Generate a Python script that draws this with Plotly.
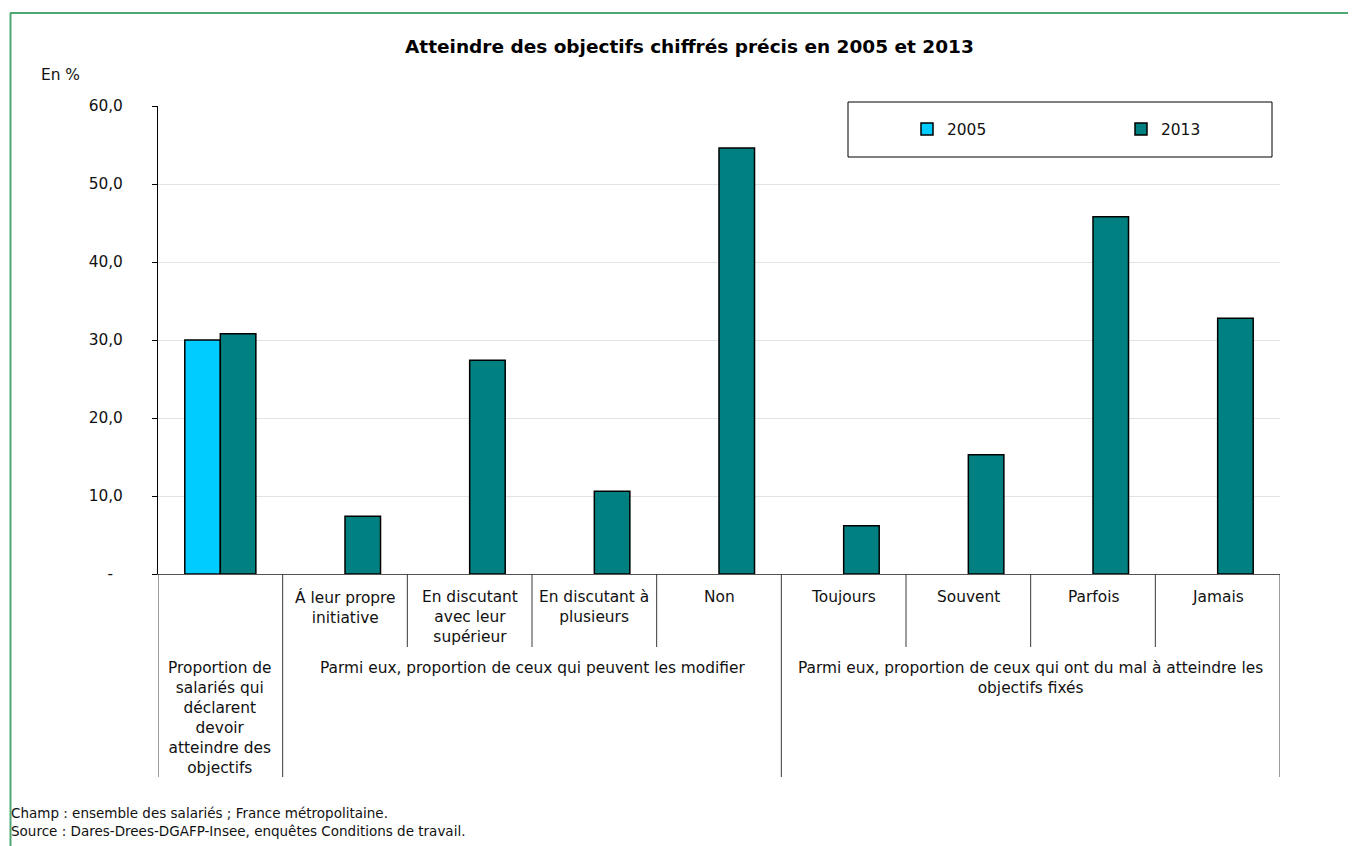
import plotly.graph_objects as go

# ---------------- data ----------------
categories = [
    "",
    "Á leur propre<br>initiative",
    "En discutant<br>avec leur<br>supérieur",
    "En discutant à<br>plusieurs",
    "Non",
    "Toujours",
    "Souvent",
    "Parfois",
    "Jamais",
]
group_labels = [
    "Proportion de<br>salariés qui<br>déclarent<br>devoir<br>atteindre des<br>objectifs",
    "Parmi eux, proportion de ceux qui peuvent les modifier",
    "Parmi eux, proportion de ceux qui ont du mal à atteindre les<br>objectifs fixés",
]
group_spans = [(0, 0), (1, 4), (5, 8)]
values_2005 = [30.0, None, None, None, None, None, None, None, None]
values_2013 = [30.8, 7.4, 27.4, 10.6, 54.6, 6.2, 15.3, 45.8, 32.8]
y_tickvals = [0, 10, 20, 30, 40, 50, 60]
y_ticktext = ["-\u00a0\u00a0", "10,0", "20,0", "30,0", "40,0", "50,0", "60,0"]

title = "Atteindre des objectifs chiffrés précis en 2005 et 2013"
unit_label = "En %"
notes = [
    "Champ : ensemble des salariés ; France métropolitaine.",
    "Source : Dares-Drees-DGAFP-Insee, enquêtes Conditions de travail.",
]

# ---------------- layout geometry (page pixels) ----------------
PAGE_W, PAGE_H = 1356, 846
BODY = 8                      # default body margin of the html page
W, H = PAGE_W - BODY, PAGE_H - BODY
X0, X1, Y0, Y1 = 158, 1280, 106, 574   # plot area in page pixels
L, R, T, B = X0 - BODY, PAGE_W - X1, Y0 - BODY, PAGE_H - Y1
PW, PH = X1 - X0, Y1 - Y0
FONT = "Verdana, DejaVu Sans, sans-serif"
FS = 15.4
TXT = "#111111"


def xp(px):
    return (px - X0) / PW


def yp(py):
    return (Y1 - py) / PH


xs = list(range(len(categories)))

fig = go.Figure()
fig.add_trace(go.Bar(
    x=xs, y=values_2005, name="2005", legend="legend",
    marker=dict(color="#00CCFF", line=dict(color="#000000", width=1.5)),
))
fig.add_trace(go.Bar(
    x=xs, y=values_2013, name="2013", legend="legend2",
    marker=dict(color="#008080", line=dict(color="#000000", width=1.5)),
))

shapes = []
annotations = []

# legend box
shapes.append(dict(type="rect", xref="paper", yref="paper",
                   x0=xp(848), x1=xp(1272), y0=yp(157), y1=yp(102),
                   fillcolor="white", line=dict(color="black", width=1),
                   layer="below"))

# category dividers
group_bounds = set()
for a, b in group_spans:
    group_bounds.add(a)
    group_bounds.add(b + 1)
for k in range(len(categories) + 1):
    major = k in group_bounds
    shapes.append(dict(type="line", xref="x", yref="paper",
                       x0=k - 0.5, x1=k - 0.5, y0=0,
                       y1=yp(777) if major else yp(647),
                       line=dict(color="#3a3a3a", width=1)))

# green frame (top and left)
shapes.append(dict(type="line", xref="paper", yref="paper",
                   x0=xp(10), x1=xp(1360), y0=yp(13), y1=yp(13),
                   line=dict(color="#4FA874", width=2)))
shapes.append(dict(type="line", xref="paper", yref="paper",
                   x0=xp(10.5), x1=xp(10.5), y0=yp(13), y1=yp(850),
                   line=dict(color="#4FA874", width=2)))

# category labels (level 1)
for i, lab in enumerate(categories):
    if lab:
        annotations.append(dict(x=i, xref="x", y=yp(586), yref="paper",
                                text=lab, showarrow=False, yanchor="top",
                                xanchor="center", align="center",
                                font=dict(size=FS, color=TXT, family=FONT)))
# group labels (level 2)
for (a, b), lab in zip(group_spans, group_labels):
    annotations.append(dict(x=(a + b) / 2, xref="x", y=yp(657), yref="paper",
                            text=lab, showarrow=False, yanchor="top",
                            xanchor="center", align="center",
                            font=dict(size=FS, color=TXT, family=FONT)))

# title
annotations.append(dict(x=xp(689.5), y=yp(46), xref="paper", yref="paper",
                        text="<b>" + title + "</b>", showarrow=False,
                        xanchor="center", yanchor="middle",
                        font=dict(size=18.5, color="black", family=FONT)))
# unit
annotations.append(dict(x=xp(39), y=yp(75), xref="paper", yref="paper",
                        text=unit_label, showarrow=False,
                        xanchor="left", yanchor="middle",
                        font=dict(size=FS, color=TXT, family=FONT)))
# notes
for j, n in enumerate(notes):
    annotations.append(dict(x=xp(9), y=yp(813 + 18 * j), xref="paper", yref="paper",
                            text=n, showarrow=False, xanchor="left", yanchor="middle",
                            font=dict(size=13.5, color=TXT, family=FONT)))

legend_common = dict(orientation="h", y=yp(129.5), xanchor="left", yanchor="middle",
                     bgcolor="rgba(0,0,0,0)", borderwidth=0,
                     font=dict(size=FS, family=FONT, color=TXT))

fig.update_layout(
    width=W, height=H,
    margin=dict(l=L, r=R, t=T, b=B, pad=0),
    paper_bgcolor="white", plot_bgcolor="white",
    barmode="group", bargap=0.43, bargroupgap=0,
    font=dict(family=FONT, size=FS, color=TXT),
    showlegend=True,
    legend=dict(x=xp(907), **legend_common),
    legend2=dict(x=xp(1121), **legend_common),
    shapes=shapes,
    annotations=annotations,
    xaxis=dict(range=[-0.5, len(categories) - 0.5], showticklabels=False,
               ticks="", showgrid=False, zeroline=False,
               showline=True, linecolor="#555555", linewidth=1),
    yaxis=dict(range=[0, 60], tickvals=y_tickvals, ticktext=y_ticktext,
               showgrid=True, gridcolor="#e3e3e3", gridwidth=1,
               zeroline=False, showline=True, linecolor="black", linewidth=1,
               ticks="outside", ticklen=5, tickcolor="black",
               ticklabelstandoff=26,
               tickfont=dict(size=FS, family=FONT, color=TXT)),
)

fig.write_html("out.html")
